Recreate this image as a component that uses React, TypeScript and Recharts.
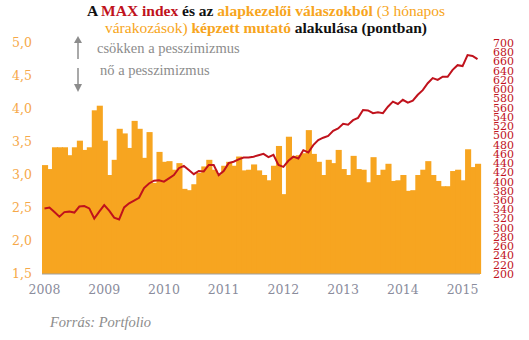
import { Bar, ComposedChart, Line, XAxis, YAxis } from 'recharts'

// havi adatok, 2008 jan – 2015 ápr
const months = Array.from({ length: 88 }, (_, i) => `${2008 + Math.floor(i / 12)}-${String((i % 12) + 1).padStart(2, '0')}`)

// alapkezelői várakozásokból képzett mutató (bal tengely)
const mutato = [
  3.15, 3.09, 3.42, 3.42, 3.42, 3.3, 3.42, 3.52, 3.38, 3.42, 3.98, 4.05,
  3.52, 3.0, 3.23, 3.7, 3.63, 3.41, 3.82, 3.7, 3.26, 3.65, 2.88, 3.35,
  3.2, 3.21, 3.08, 3.18, 2.79, 2.77, 2.86, 3.03, 3.13, 3.23, 3.08, 3.0,
  3.14, 3.2, 3.14, 3.28, 3.07, 3.08, 3.16, 3.07, 3.0, 2.92, 3.14, 3.44,
  2.71, 3.58, 3.29, 3.3, 3.33, 3.68, 3.32, 3.2, 3.0, 3.23, 3.18, 3.38,
  3.09, 3.0, 3.29, 3.09, 3.08, 2.89, 3.27, 3.0, 3.08, 3.17, 2.91, 2.92,
  3.0, 2.76, 2.77, 3.0, 3.08, 3.21, 3.0, 2.91, 2.83, 2.83, 3.06, 3.08,
  2.92, 3.39, 3.12, 3.17,
]

// MAX index (jobb tengely)
const maxIndex = [
  342, 344, 334, 324, 334, 335, 333, 346, 347, 342, 320, 335,
  349, 337, 322, 318, 344, 353, 359, 365, 386, 396, 402, 403,
  400, 407, 414, 429, 434, 425, 416, 423, 422, 436, 436, 414,
  423, 440, 443, 448, 452, 452, 454, 457, 460, 453, 458, 436,
  432, 445, 454, 450, 468, 463, 479, 490, 495, 499, 510, 515,
  525, 523, 533, 538, 555, 554, 548, 550, 548, 562, 573, 568,
  577, 571, 575, 588, 598, 613, 624, 620, 627, 627, 642, 652,
  650, 674, 672, 665,
]

const yearTicks = ['2008-01', '2009-01', '2010-01', '2011-01', '2012-01', '2013-01', '2014-01', '2015-01']
const leftTicks = [1.5, 2, 2.5, 3, 3.5, 4, 4.5, 5]
const rightTicks = [
  200, 220, 240, 260, 280, 300, 320, 340, 360, 380, 400, 420, 440,
  460, 480, 500, 520, 540, 560, 580, 600, 620, 640, 660, 680, 700,
]

const ORANGE = '#f7a520'
const RED = '#c0121c'
const GRAY = '#8c8c8c'
const SERIF = '"DejaVu Serif", serif'

const data = months.map((m, i) => ({ m, mutato: mutato[i], max: maxIndex[i] }))

// recharts egész pixelre kerekíti az oszlopszélességet, ezért kitöltjük a rést
const FilledBar = (p: any) => (
  <rect x={p.x} y={p.y} width={p.width + 1.1} height={p.height} fill={ORANGE} />
)

export default function App() {
  return (
    <div style={{ position: 'absolute', left: 0, top: 0, width: 529, height: 340, background: '#fff', fontFamily: '"Liberation Serif", serif' }}>
      <div
        style={{
          position: 'absolute', left: 0, top: 2, width: 532, textAlign: 'center',
          fontSize: 15.5, lineHeight: '17px', fontWeight: 700, color: '#111',
        }}
      >
        A <span style={{ color: RED }}>MAX index</span> és az <span style={{ color: ORANGE }}>alapkezelői válaszokból</span>{' '}
        <span style={{ color: ORANGE, fontWeight: 400 }}>(3 hónapos</span>
        <br />
        <span style={{ color: ORANGE, fontWeight: 400 }}>várakozások)</span> <span style={{ color: ORANGE }}>képzett mutató</span> alakulása (pontban)
      </div>

      <ComposedChart
        width={529}
        height={340}
        data={data}
        barCategoryGap={0}
        barGap={0}
        margin={{ top: 43, right: 0, left: 0, bottom: 36 }}
      >
        <XAxis
          dataKey="m"
          ticks={yearTicks}
          interval={0}
          tickFormatter={(v: string) => v.slice(0, 4)}
          tick={{ fontSize: 12.5, fill: '#8a8c9c', fontFamily: SERIF }}
          tickLine={false}
          tickMargin={5}
          axisLine={{ stroke: '#a0a0a0' }}
          height={30}
        />
        <YAxis
          yAxisId="left"
          domain={[1.5, 5]}
          ticks={leftTicks}
          width={42}
          tickFormatter={(v: number) => v.toFixed(1).replace('.', ',')}
          tick={{ fontSize: 12.5, fill: '#f6a848', fontFamily: SERIF }}
          tickLine={false}
          axisLine={false}
          tickSize={0}
          tickMargin={10}
        />
        <YAxis
          yAxisId="right"
          orientation="right"
          domain={[200, 700]}
          ticks={rightTicks}
          interval={0}
          width={49}
          tick={{ fontSize: 11, fill: RED, fontFamily: SERIF, textAnchor: 'start' }}
          tickLine={false}
          axisLine={false}
          tickSize={0}
          tickMargin={13}
        />
        <Bar yAxisId="left" dataKey="mutato" fill={ORANGE} shape={FilledBar} isAnimationActive={false} />
        <Line
          yAxisId="right"
          dataKey="max"
          stroke={RED}
          strokeWidth={2}
          dot={false}
          type="linear"
          isAnimationActive={false}
        />
      </ComposedChart>

      <svg width={529} height={340} style={{ position: 'absolute', left: 0, top: 0, pointerEvents: 'none' }}>
        <line x1={78} y1={42} x2={78} y2={59} stroke={GRAY} strokeWidth={1.5} />
        <polygon points="74,43 82,43 78,36" fill={GRAY} />
        <line x1={78} y1={68} x2={78} y2={85} stroke={GRAY} strokeWidth={1.5} />
        <polygon points="74,84 82,84 78,92" fill={GRAY} />
      </svg>
      <div style={{ position: 'absolute', left: 97, top: 40, fontSize: 14.5, color: GRAY }}>csökken a pesszimizmus</div>
      <div style={{ position: 'absolute', left: 100, top: 62, fontSize: 14.5, color: GRAY }}>nő a pesszimizmus</div>
      <div style={{ position: 'absolute', left: 50, top: 314, fontSize: 14.5, fontStyle: 'italic', color: GRAY }}>Forrás: Portfolio</div>
    </div>
  )
}
